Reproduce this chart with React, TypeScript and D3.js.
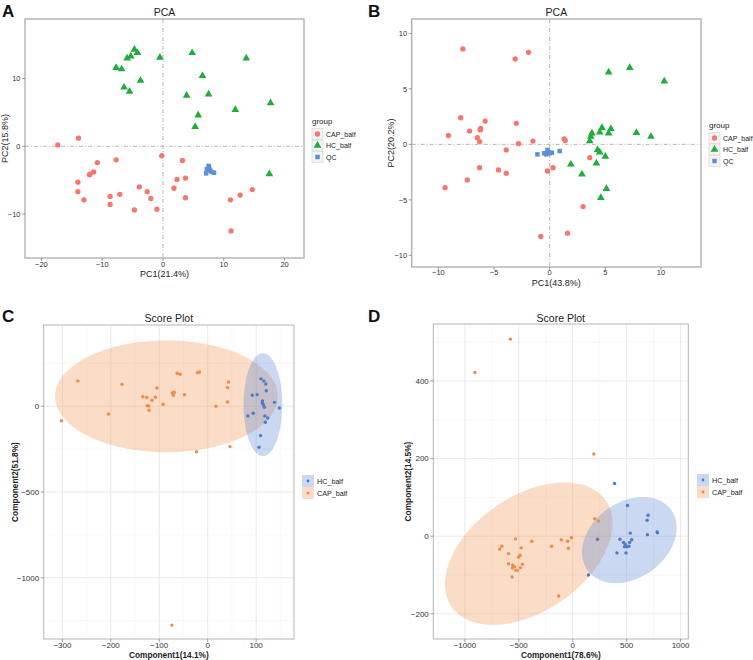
import React from 'react';
import * as d3 from 'd3';

// ---------------- DATA ----------------
// Panel A: PCA (PC1 21.4%, PC2 15.8%)
const A_CAP: [number, number][] = [
  [-17.3, 0.2], [-13.9, 1.2], [-0.2, -1.4], [-7.7, -2.0], [3.2, -2.1], [-10.8, -2.4],
  [-11.4, -3.8], [-12.1, -4.2], [-12.0, -4.1], [-14.0, -5.3], [2.3, -4.9], [3.7, -4.7],
  [-3.9, -6.0], [1.8, -6.2], [-14.0, -6.7], [-2.6, -6.7], [-7.1, -7.1], [-8.7, -7.4],
  [-2.0, -7.7], [-13.0, -7.9], [3.7, -7.6], [-8.7, -8.6], [-4.7, -9.4], [-1.0, -9.3],
  [11.1, -7.9], [12.7, -7.2], [14.7, -6.4], [11.2, -12.5],
];
const A_HC: [number, number][] = [
  [-4.7, 14.3], [-4.2, 13.8], [-5.3, 13.3], [-5.9, 13.0], [-0.5, 13.1], [4.8, 13.8],
  [13.7, 13.0], [-7.7, 11.6], [-6.8, 11.4], [6.5, 10.4], [-3.7, 9.7], [-6.4, 8.7],
  [-5.5, 8.1], [3.9, 7.5], [7.5, 7.7], [11.9, 5.4], [17.7, 6.4], [5.8, 4.6],
  [5.3, 2.9], [17.5, -4.1],
];
const A_QC: [number, number][] = [
  [7.5, -2.9], [7.6, -3.2], [7.2, -3.4], [7.8, -3.6], [8.0, -3.8], [8.4, -3.9], [7.1, -4.0],
];

// Panel B: PCA (PC1 43.8%, PC2 20.2%)
const B_CAP: [number, number][] = [
  [-7.8, 8.6], [-1.9, 8.3], [-3.1, 7.7], [-8.0, 2.4], [-5.8, 2.1], [-3.0, 1.9],
  [-7.2, 1.2], [-6.2, 1.45], [-6.25, 1.3], [-9.1, 0.8], [-6.5, 0.6], [-6.3, 0.25],
  [-1.5, 0.3], [-2.8, 0.06], [1.3, 0.5], [1.4, 0.35], [-3.9, -0.5], [3.6, -1.2],
  [-6.3, -2.1], [-4.6, -2.3], [-3.9, -2.6], [0.3, -2.1], [-0.2, -2.4], [-7.4, -3.2],
  [-9.4, -3.9], [3.0, -5.6], [1.6, -8.0], [-0.8, -8.3],
];
const B_HC: [number, number][] = [
  [5.3, 6.5], [7.2, 6.9], [10.3, 5.7], [4.7, 1.5], [5.5, 1.4], [3.8, 1.0],
  [4.5, 1.1], [5.3, 1.0], [3.7, 0.7], [7.8, 1.05], [9.1, 0.7], [3.6, 0.3],
  [4.3, -0.5], [4.5, -0.7], [5.0, -1.1], [4.2, -1.7], [1.9, -1.8], [2.9, -2.7],
  [5.1, -4.0], [4.6, -4.8],
];
const B_QC: [number, number][] = [
  [-1.1, -0.9], [-0.5, -0.8], [-0.2, -0.5], [-0.1, -0.7], [-0.3, -0.9], [0.2, -0.75],
  [0.9, -0.6], [0.0, -0.8],
];

// Panel C: Score plot (Component1 14.1%, Component2 51.8%)
const C_CAP: [number, number][] = [
  [-302, -84], [-268, 148], [-205, -45], [-177, 128], [-134, 56], [-126, 51],
  [-125, 4], [-122, 2], [-121, -23], [-115, 35], [-108, 53], [-105, 107],
  [-92, 12], [-73, 78], [-71, 64], [-69, 82], [-48, 68], [-63, 193],
  [-57, 187], [-21, 196], [-17, 200], [43, 142], [41, 109], [41, 25],
  [17, 0], [-23, -265], [46, -235], [-74, -1276],
];
const C_HC: [number, number][] = [
  [110, 160], [116, 148], [120, 130], [121, 91], [102, 68], [92, 64],
  [113, 31], [113, 18], [115, 8], [117, -6], [138, 23], [148, -10],
  [118, -56], [124, -68], [119, -93], [94, -41], [83, -56], [109, -171], [106, -239],
];
// ellipse: centre, first semi-axis vector, second semi-axis vector (data units)
const C_ELLIPSE_CAP = { cx: -85, cy: 58, ux: 230, uy: 0, vx: 0, vy: 326 };
const C_ELLIPSE_HC = { cx: 114, cy: 10, ux: 40, uy: 0, vx: 0, vy: 300 };

// Panel D: Score plot (Component1 78.6%, Component2 14.5%)
const D_CAP: [number, number][] = [
  [-578, 508], [-907, 422], [196, 212], [205, 45], [239, 39], [-531, -7],
  [-379, -13], [-106, -9], [-47, -13], [-12, -4], [-196, -26], [-40, -31],
  [-658, -26], [-677, -33], [-596, -45], [-478, -30], [-488, -49], [-503, -54],
  [-596, -71], [-556, -75], [-540, -79], [-559, -82], [-528, -88], [-512, -88],
  [-466, -72], [-484, -81], [-562, -105], [-130, -154],
];
const D_HC: [number, number][] = [
  [388, 136], [509, 79], [699, 54], [690, 41], [783, 11], [786, 9],
  [693, 4], [534, 8], [547, -9], [438, -8], [230, -8], [472, -16],
  [488, -21], [503, -27], [522, -26], [481, -27], [410, -43], [494, -43],
  [146, -100], [528, -16],
];
const D_ELLIPSE_CAP = { cx: -408, cy: -45, ux: 715, uy: 137, vx: 304, vy: -122 };
const D_ELLIPSE_HC = { cx: 525, cy: -10, ux: 387, uy: 78, vx: 207, vy: -79 };

// ---------------- STYLE / LAYOUT ----------------
const FONT = "'Liberation Sans', Arial, Helvetica, sans-serif";
const RED = '#F8766D';
const GREEN = '#1fae3c';
const QCBLUE = '#5b8fd6';
const ORANGE = 'rgb(240,140,70)';
const BLUE = 'rgb(74,124,201)';
const BLUEFILL = 'rgb(80,130,210)';

type Ell = { cx: number; cy: number; ux: number; uy: number; vx: number; vy: number };

type Cfg = {
  left: number; right: number; top: number; bottom: number;
  xDomain: [number, number]; yDomain: [number, number];
  xTicks: number[]; yTicks: number[];
  title: string; xLabel: string; yLabel: string;
  tag: string; tagX: number; tagY: number;
  kind: 'pca' | 'score';
  xLabelY: number; yLabelX: number; titleY: number; tickLabelY: number;
};

const fmt = d3.format('');

function Frame({ c, draw }: { c: Cfg; draw: (x: any, y: any) => React.ReactNode }) {
  const x = d3.scaleLinear().domain(c.xDomain).range([c.left, c.right]);
  const y = d3.scaleLinear().domain(c.yDomain).range([c.bottom, c.top]);
  const score = c.kind === 'score';
  const minors = (ticks: number[], dom: [number, number]) => {
    const step = ticks[1] - ticks[0];
    const out: number[] = [];
    for (let v = ticks[0] - step / 2; v <= dom[1]; v += step) if (v >= dom[0]) out.push(v);
    return out;
  };
  const midX = (c.left + c.right) / 2;
  const midY = (c.top + c.bottom) / 2;
  const tickFs = score ? 8 : 7.5;
  return (
    <g>
      <text x={c.tagX} y={c.tagY} fontFamily={FONT} fontWeight="bold" fontSize={17} fill="#111">{c.tag}</text>
      <text x={midX} y={c.titleY} fontFamily={FONT} fontSize={10.5} textAnchor="middle" fill="#222">{c.title}</text>
      <rect x={c.left} y={c.top} width={c.right - c.left} height={c.bottom - c.top} fill="#fff" />
      {score && minors(c.xTicks, c.xDomain).map((v) => (
        <line key={'mx' + v} x1={x(v)} x2={x(v)} y1={c.top} y2={c.bottom} stroke="#f3f3f3" strokeWidth={0.6} />
      ))}
      {score && minors(c.yTicks, c.yDomain).map((v) => (
        <line key={'my' + v} y1={y(v)} y2={y(v)} x1={c.left} x2={c.right} stroke="#f3f3f3" strokeWidth={0.6} />
      ))}
      {score && c.xTicks.map((v) => (
        <line key={'gx' + v} x1={x(v)} x2={x(v)} y1={c.top} y2={c.bottom} stroke="#e8e8e8" strokeWidth={0.9} />
      ))}
      {score && c.yTicks.map((v) => (
        <line key={'gy' + v} y1={y(v)} y2={y(v)} x1={c.left} x2={c.right} stroke="#e8e8e8" strokeWidth={0.9} />
      ))}
      {!score && (
        <g stroke="#9a9a9a" strokeWidth={0.7} strokeDasharray="4 2 1 2">
          <line x1={x(0)} x2={x(0)} y1={c.top} y2={c.bottom} />
          <line y1={y(0)} y2={y(0)} x1={c.left} x2={c.right} />
        </g>
      )}
      {draw(x, y)}
      <rect x={c.left} y={c.top} width={c.right - c.left} height={c.bottom - c.top} fill="none"
        stroke={score ? '#b5b5b5' : '#a5a5a5'} strokeWidth={score ? 1 : 1.2} />
      {c.xTicks.map((v) => (
        <g key={'tx' + v}>
          <line x1={x(v)} x2={x(v)} y1={c.bottom} y2={c.bottom + 3} stroke="#777" strokeWidth={0.7} />
          <text x={x(v)} y={c.tickLabelY} fontFamily={FONT} fontSize={tickFs} textAnchor="middle" fill="#333">{fmt(v)}</text>
        </g>
      ))}
      {c.yTicks.map((v) => (
        <g key={'ty' + v}>
          <line y1={y(v)} y2={y(v)} x1={c.left - 3} x2={c.left} stroke="#777" strokeWidth={0.7} />
          <text x={c.left - 4.5} y={y(v) + 2.8} fontFamily={FONT} fontSize={tickFs} textAnchor="end" fill="#333">{fmt(v)}</text>
        </g>
      ))}
      <text x={midX} y={c.xLabelY} fontFamily={FONT} fontSize={score ? 8.3 : 9} fontWeight={score ? 'bold' : 'normal'}
        textAnchor="middle" fill="#222">{c.xLabel}</text>
      <text transform={`translate(${c.yLabelX},${midY}) rotate(-90)`} fontFamily={FONT} fontSize={score ? 8.3 : 9}
        fontWeight={score ? 'bold' : 'normal'} textAnchor="middle" dy="0.35em" fill="#222">{c.yLabel}</text>
    </g>
  );
}

const circleSym = d3.symbol().type(d3.symbolCircle).size(22)() as string;
const triSym = d3.symbol().type(d3.symbolTriangle).size(26)() as string;
const sqSym = d3.symbol().type(d3.symbolSquare).size(20)() as string;

const PCA_GROUPS = ['CAP_balf', 'HC_balf', 'QC'];
const SCORE_GROUPS = ['HC_balf', 'CAP_balf'];

function PcaLegend({ x, y }: { x: number; y: number }) {
  const paths = [circleSym, triSym, sqSym];
  const colors = [RED, GREEN, QCBLUE];
  return (
    <g fontFamily={FONT}>
      <text x={x} y={y} fontSize={8} fill="#222">group</text>
      {PCA_GROUPS.map((label, i) => {
        const cy = y + 10 + i * 11.5;
        return (
          <g key={label}>
            <rect x={x} y={cy - 5.5} width={11} height={11} fill="#f4f4f4" stroke="#d2d2d2" strokeWidth={0.6} />
            <path d={paths[i]} transform={`translate(${x + 5.5},${cy})`} fill={colors[i]} />
            <text x={x + 14} y={cy + 2.5} fontSize={7} fill="#222">{label}</text>
          </g>
        );
      })}
    </g>
  );
}

function ScoreLegend({ x, y }: { x: number; y: number }) {
  const colors = [BLUE, ORANGE];
  const fills = [BLUEFILL, ORANGE];
  return (
    <g fontFamily={FONT}>
      {SCORE_GROUPS.map((label, i) => {
        const cy = y + i * 12;
        return (
          <g key={label}>
            <rect x={x} y={cy - 6} width={12} height={12} fill="#fff" />
            <rect x={x} y={cy - 6} width={12} height={12} fill={fills[i]} fillOpacity={0.3} />
            <circle cx={x + 6} cy={cy} r={1.4} fill={colors[i]} />
            <text x={x + 15} y={cy + 2.6} fontSize={7.2} fill="#222">{label}</text>
          </g>
        );
      })}
    </g>
  );
}

function ellipsePath(e: Ell, x: d3.ScaleLinear<number, number>, y: d3.ScaleLinear<number, number>) {
  const pts: [number, number][] = d3.range(0, 361, 3).map((deg) => {
    const t = (deg * Math.PI) / 180;
    return [x(e.cx + Math.cos(t) * e.ux + Math.sin(t) * e.vx), y(e.cy + Math.cos(t) * e.uy + Math.sin(t) * e.vy)];
  });
  return d3.line()(pts) + 'Z';
}

const cfgA: Cfg = {
  left: 25, right: 304, top: 19, bottom: 258,
  xDomain: [-22.7, 23.2], yDomain: [-16.5, 18.8],
  xTicks: [-20, -10, 0, 10, 20], yTicks: [-10, 0, 10],
  title: 'PCA', xLabel: 'PC1(21.4%)', yLabel: 'PC2(15.8%)',
  tag: 'A', tagX: 2, tagY: 17, kind: 'pca',
  xLabelY: 277, yLabelX: 5, titleY: 16, tickLabelY: 267,
};
const cfgB: Cfg = {
  left: 411.7, right: 701, top: 19, bottom: 267,
  xDomain: [-12.4, 13.6], yDomain: [-11.05, 11.3],
  xTicks: [-10, -5, 0, 5, 10], yTicks: [-10, -5, 0, 5, 10],
  title: 'PCA', xLabel: 'PC1(43.8%)', yLabel: 'PC2(20.2%)',
  tag: 'B', tagX: 368, tagY: 17, kind: 'pca',
  xLabelY: 285.5, yLabelX: 391, titleY: 16, tickLabelY: 275,
};
const cfgC: Cfg = {
  left: 43.7, right: 294, top: 325, bottom: 639,
  xDomain: [-338.6, 178.2], yDomain: [-1357, 474],
  xTicks: [-300, -200, -100, 0, 100], yTicks: [-1000, -500, 0],
  title: 'Score Plot', xLabel: 'Component1(14.1%)', yLabel: 'Component2(51.8%)',
  tag: 'C', tagX: 2, tagY: 322, kind: 'score',
  xLabelY: 657.5, yLabelX: 15, titleY: 322, tickLabelY: 648,
};
const cfgD: Cfg = {
  left: 433.3, right: 688.3, top: 324, bottom: 639,
  xDomain: [-1293, 1072], yDomain: [-265, 547],
  xTicks: [-1000, -500, 0, 500, 1000], yTicks: [-200, 0, 200, 400],
  title: 'Score Plot', xLabel: 'Component1(78.6%)', yLabel: 'Component2(14.5%)',
  tag: 'D', tagX: 368, tagY: 322, kind: 'score',
  xLabelY: 657.5, yLabelX: 408, titleY: 322, tickLabelY: 648,
};

export default function App() {
  const pca = (cap: [number, number][], hc: [number, number][], qc: [number, number][]) =>
    (x: any, y: any) => (
      <g>
        {cap.map((d, i) => <path key={'c' + i} d={circleSym} transform={`translate(${x(d[0])},${y(d[1])})`} fill={RED} />)}
        {hc.map((d, i) => <path key={'h' + i} d={triSym} transform={`translate(${x(d[0])},${y(d[1])})`} fill={GREEN} />)}
        {qc.map((d, i) => <path key={'q' + i} d={sqSym} transform={`translate(${x(d[0])},${y(d[1])})`} fill={QCBLUE} />)}
      </g>
    );
  const score = (cap: [number, number][], hc: [number, number][], eCap: Ell, eHc: Ell) =>
    (x: any, y: any) => (
      <g>
        <path d={ellipsePath(eCap, x, y)} fill={ORANGE} fillOpacity={0.3} />
        <path d={ellipsePath(eHc, x, y)} fill={BLUEFILL} fillOpacity={0.3} />
        {cap.map((d, i) => <circle key={'c' + i} cx={x(d[0])} cy={y(d[1])} r={1.7} fill={ORANGE} />)}
        {hc.map((d, i) => <circle key={'h' + i} cx={x(d[0])} cy={y(d[1])} r={1.7} fill={BLUE} />)}
      </g>
    );
  return (
    <svg width={753} height={660} style={{ position: 'absolute', left: 0, top: 0, background: '#fff' }}>
      <rect width={753} height={660} fill="#fff" />
      <Frame c={cfgA} draw={pca(A_CAP, A_HC, A_QC)} />
      <PcaLegend x={312} y={124} />
      <Frame c={cfgB} draw={pca(B_CAP, B_HC, B_QC)} />
      <PcaLegend x={709} y={128} />
      <Frame c={cfgC} draw={score(C_CAP, C_HC, C_ELLIPSE_CAP, C_ELLIPSE_HC)} />
      <ScoreLegend x={302} y={481} />
      <Frame c={cfgD} draw={score(D_CAP, D_HC, D_ELLIPSE_CAP, D_ELLIPSE_HC)} />
      <ScoreLegend x={697} y={480} />
    </svg>
  );
}
